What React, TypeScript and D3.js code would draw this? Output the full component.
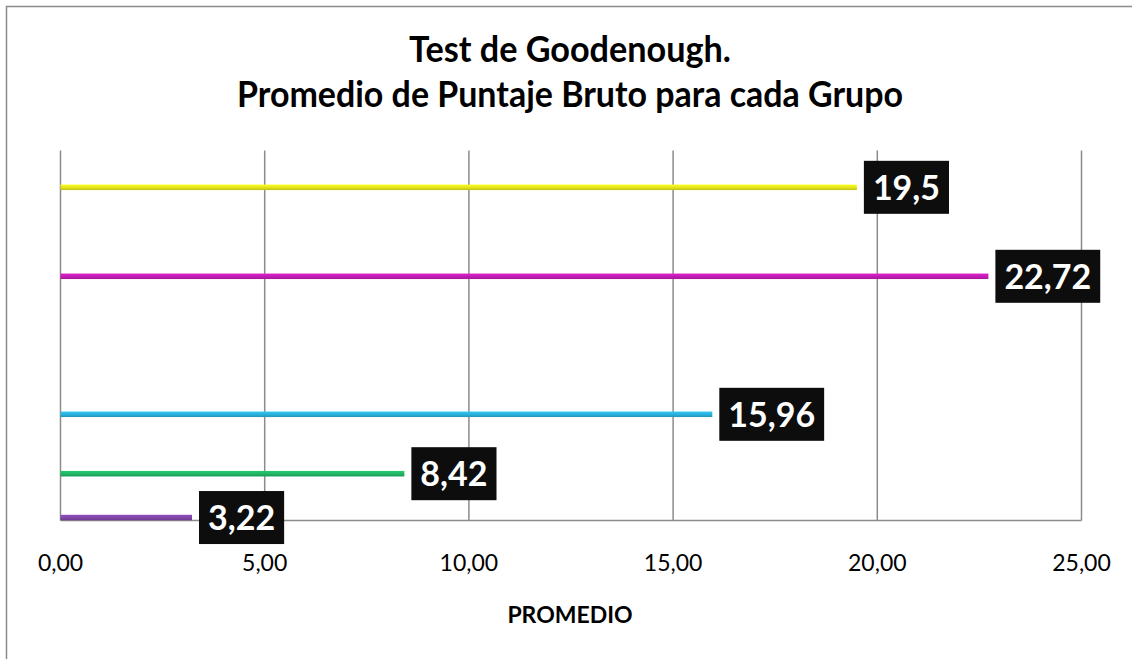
import React, { useEffect, useRef } from "react";
import * as d3 from "d3";

// ---- data (bottom to top) ----
const groups = ["Grupo 1", "Grupo 2", "Grupo 3", "Grupo 4", "Grupo 5"];
const values = [3.22, 8.42, 15.96, 22.72, 19.5];
const valueLabels = ["3,22", "8,42", "15,96", "22,72", "19,5"];
const rowLevels = [0.8, 12.65, 28.7, 66.0, 90.05];
const colors = ["#7e45a6", "#1fb463", "#29b0d8", "#c21cb4", "#e2e21c"];
const xTicks = [0, 5, 10, 15, 20, 25];
const titleLines = ["Test de Goodenough.", "Promedio de Puntaje Bruto para cada Grupo"];
const axisTitle = "PROMEDIO";

const W = 1132;
const H = 659;

export default function App() {
  const ref = useRef<SVGSVGElement>(null);

  useEffect(() => {
    const svg = d3.select(ref.current);
    svg.selectAll("*").remove();

    const left = 60.5, right = 1081.5, top = 150.5, bottom = 520.5;
    const x = d3.scaleLinear().domain([0, 25]).range([left, right]);
    const y = d3.scaleLinear().domain([0, 100]).range([bottom, top]);

    // outer chart border
    svg.append("rect")
      .attr("x", 6.5).attr("y", 6.5)
      .attr("width", 1140).attr("height", 700)
      .attr("fill", "#fff").attr("stroke", "#8c8c8c").attr("stroke-width", 1.5);

    // gradients
    const defs = svg.append("defs");
    colors.forEach((c, i) => {
      const g = defs.append("linearGradient").attr("id", `g${i}`)
        .attr("x1", 0).attr("y1", 0).attr("x2", 0).attr("y2", 1);
      g.append("stop").attr("offset", "0%").attr("stop-color", d3.color(c)!.brighter(0.35).formatHex());
      g.append("stop").attr("offset", "55%").attr("stop-color", c);
      g.append("stop").attr("offset", "100%").attr("stop-color", d3.color(c)!.darker(0.45).formatHex());
    });

    // gridlines
    svg.append("g").selectAll("line").data(xTicks).join("line")
      .attr("x1", d => x(d)).attr("x2", d => x(d))
      .attr("y1", top).attr("y2", bottom)
      .attr("stroke", "#8c8c8c").attr("stroke-width", 1.5);

    // bottom axis line
    svg.append("line")
      .attr("x1", left).attr("x2", right).attr("y1", bottom).attr("y2", bottom)
      .attr("stroke", "#8c8c8c").attr("stroke-width", 1.5);

    // tick labels
    svg.append("g").selectAll("text").data(xTicks).join("text")
      .attr("x", d => x(d)).attr("y", 571)
      .attr("text-anchor", "middle")
      .attr("font-family", "Lato, sans-serif").attr("font-size", 23)
      .attr("fill", "#000")
      .text(d => d3.format(".2f")(d).replace(".", ","));

    // bars
    const barH = 5.5;
    svg.append("g").selectAll("rect").data(values).join("rect")
      .attr("x", x(0))
      .attr("y", (_, i) => y(rowLevels[i]) - barH / 2)
      .attr("width", d => x(d) - x(0))
      .attr("height", barH)
      .attr("fill", (_, i) => `url(#g${i})`);

    // value labels
    const lg = svg.append("g");
    values.forEach((v, i) => {
      const cy = y(rowLevels[i]);
      const g = lg.append("g");
      const rect = g.append("rect").attr("fill", "#0d0d0d");
      const t = g.append("text")
        .attr("font-family", "Lato, sans-serif").attr("font-weight", "bold")
        .attr("font-size", 34).attr("fill", "#fff")
        .attr("text-anchor", "middle")
        .text(valueLabels[i]);
      const tw = (t.node() as SVGTextElement).getComputedTextLength();
      const bw = tw + 18;
      const bx = x(v) + 7;
      rect.attr("x", bx).attr("y", cy - 26.5).attr("width", bw).attr("height", 53);
      t.attr("x", bx + bw / 2).attr("y", cy + 12.5);
    });

    // title
    const titleWidths = [322, 666];
    svg.append("g").selectAll("text").data(titleLines).join("text")
      .attr("x", 570).attr("y", (_, i) => (i === 0 ? 61.7 : 106.7))
      .attr("text-anchor", "middle")
      .attr("font-family", "Lato, sans-serif").attr("font-weight", "bold")
      .attr("font-size", 36).attr("fill", "#000")
      .attr("textLength", (_, i) => titleWidths[i])
      .attr("lengthAdjust", "spacingAndGlyphs")
      .text(d => d);

    // axis title
    svg.append("text")
      .attr("x", 570).attr("y", 623)
      .attr("text-anchor", "middle")
      .attr("font-family", "Lato, sans-serif").attr("font-weight", "bold")
      .attr("font-size", 23).attr("fill", "#000")
      .text(axisTitle);
  }, []);

  return (
    <svg
      ref={ref}
      width={W}
      height={H}
      style={{ position: "absolute", left: 0, top: 0, display: "block" }}
    />
  );
}
